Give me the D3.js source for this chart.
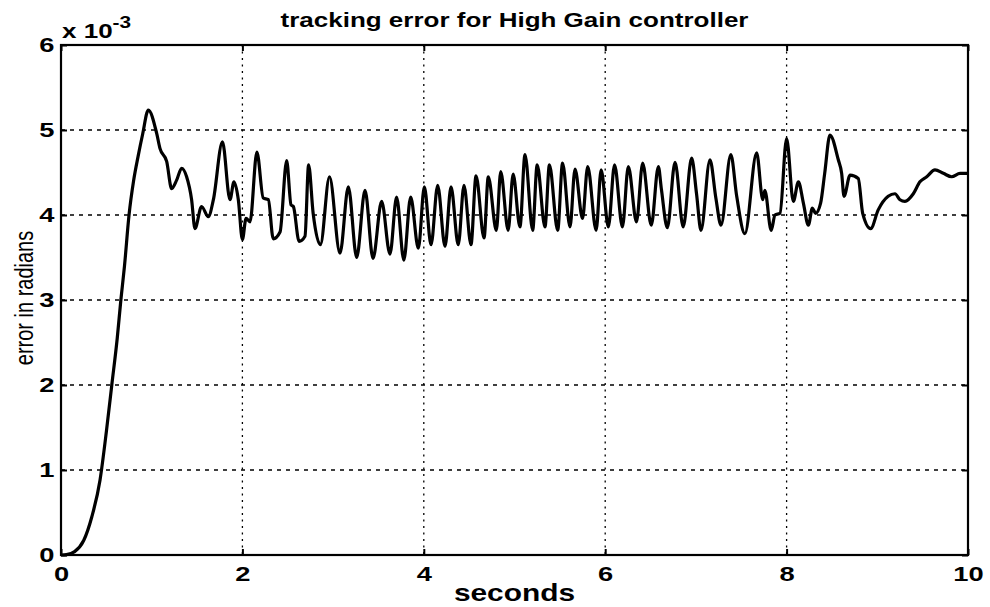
<!DOCTYPE html>
<html>
<head>
<meta charset="utf-8">
<script src="https://cdn.jsdelivr.net/npm/d3@7"></script>
<style>
  html, body { margin: 0; padding: 0; background: #fff; }
  svg { display: block; }
  text { font-family: 'Liberation Sans', Arial, Helvetica, sans-serif; fill: #000; }
</style>
</head>
<body>
<div id="chart"></div>
<script>
// time in seconds, error in units of 1e-3 radians
const timeS = [
  0, 0.06, 0.15, 0.25, 0.34, 0.43, 0.5, 0.56, 0.62, 0.66, 0.7, 0.75, 0.8, 0.85, 0.9, 0.963,
  1.055, 1.092, 1.165, 1.22, 1.275, 1.33, 1.385, 1.44, 1.477, 1.55, 1.624, 1.68, 1.78, 1.863, 1.907, 1.955,
  2.0, 2.04, 2.084, 2.16, 2.23, 2.286, 2.34, 2.415, 2.488, 2.536, 2.562, 2.625, 2.69, 2.73, 2.78, 2.86, 2.96,
  3.076, 3.168, 3.26, 3.352, 3.44, 3.535, 3.627, 3.70, 3.78, 3.855, 3.94,
  4.006, 4.08, 4.153, 4.234, 4.30, 4.38, 4.443, 4.52, 4.576, 4.664, 4.711, 4.80, 4.848, 4.93, 4.985,
  5.06, 5.116, 5.20, 5.25, 5.336, 5.385, 5.476, 5.53, 5.612, 5.667, 5.75, 5.807, 5.90, 5.955,
  6.035, 6.103, 6.19, 6.255, 6.345, 6.413, 6.508, 6.586, 6.62, 6.685, 6.77, 6.86, 6.953,
  7.007, 7.056, 7.155, 7.22, 7.277, 7.385, 7.45, 7.54, 7.67, 7.737, 7.76, 7.83, 7.872, 7.927,
  8.0, 8.074, 8.13, 8.185, 8.24, 8.284, 8.32, 8.375, 8.42, 8.478, 8.57, 8.607, 8.633, 8.70, 8.79, 8.839, 8.927,
  9.01, 9.12, 9.195, 9.25, 9.305, 9.397, 9.47, 9.545, 9.636, 9.728, 9.82, 9.912, 10.0
];
const errorE3 = [
  0, 0.005, 0.04, 0.17, 0.45, 0.88, 1.45, 2.0, 2.55, 3.0, 3.4, 4.0, 4.4, 4.69, 4.95, 5.235,
  4.96, 4.78, 4.63, 4.31, 4.41, 4.55, 4.45, 4.18, 3.84, 4.10, 3.98, 4.18, 4.86, 4.18, 4.39, 4.18,
  3.71, 3.96, 3.92, 4.74, 4.20, 4.18, 3.72, 3.80, 4.64, 4.12, 4.10, 3.69, 3.75, 4.59, 4.02, 3.65, 4.45,
  3.55, 4.33, 3.50, 4.29, 3.49, 4.16, 3.54, 4.21, 3.47, 4.21, 3.61,
  4.33, 3.65, 4.35, 3.63, 4.33, 3.65, 4.35, 3.65, 4.46, 3.73, 4.45, 3.82, 4.51, 3.82, 4.48,
  3.86, 4.71, 3.82, 4.59, 3.86, 4.59, 3.82, 4.61, 3.86, 4.54, 3.96, 4.57, 3.82, 4.53,
  3.86, 4.59, 3.86, 4.57, 3.92, 4.61, 3.88, 4.57, 4.30, 3.85, 4.62, 3.86, 4.67,
  4.25, 3.82, 4.65, 4.20, 3.88, 4.71, 4.22, 3.78, 4.73, 4.18, 4.29, 3.82, 4.00, 4.02,
  4.90, 4.16, 4.39, 4.14, 3.88, 4.08, 4.02, 4.14, 4.49, 4.94, 4.65, 4.49, 4.22, 4.47, 4.43, 4.02, 3.84,
  4.06, 4.22, 4.25, 4.18, 4.16, 4.25, 4.39, 4.45, 4.53, 4.49, 4.45, 4.49, 4.49
];
const xTicks = [0, 2, 4, 6, 8, 10];
const yTicks = [0, 1, 2, 3, 4, 5, 6];

const titleText = 'tracking error for High Gain controller';
const xLabel = 'seconds';
const yLabel = 'error in radians';

const width = 990, height = 607;
const margin = { top: 45, right: 22, bottom: 52, left: 61 };
const plotW = width - margin.left - margin.right;
const plotH = height - margin.top - margin.bottom;
// the printed lettering is wide: stretch text horizontally
const stretch = 1.3;

const svg = d3.select('#chart').append('svg')
  .attr('width', width)
  .attr('height', height);

svg.append('rect').attr('width', width).attr('height', height).attr('fill', '#fff');

const g = svg.append('g').attr('transform', `translate(${margin.left},${margin.top})`);

const x = d3.scaleLinear().domain([0, 10]).range([0, plotW]);
const y = d3.scaleLinear().domain([0, 6]).range([plotH, 0]);

// dotted grid
g.append('g').selectAll('line')
  .data(xTicks.slice(1, -1))
  .join('line')
  .attr('x1', d => x(d)).attr('x2', d => x(d))
  .attr('y1', 0).attr('y2', plotH)
  .attr('stroke', '#000').attr('stroke-width', 1.3)
  .attr('stroke-dasharray', '2,4.5');

g.append('g').selectAll('line')
  .data(yTicks.slice(1, -1))
  .join('line')
  .attr('x1', 0).attr('x2', plotW)
  .attr('y1', d => y(d)).attr('y2', d => y(d))
  .attr('stroke', '#000').attr('stroke-width', 1.3)
  .attr('stroke-dasharray', '4,5');

// axes: labels bottom/left, inward ticks on all four sides
const tickLen = 6;
const axisStyle = sel => {
  sel.select('.domain').remove();
  sel.selectAll('.tick line').attr('stroke', '#000').attr('stroke-width', 2);
  sel.selectAll('.tick text')
    .style('font-size', '21px').style('font-weight', 'bold').attr('fill', '#000');
};

const xAxisG = g.append('g').attr('transform', `translate(0,${plotH})`)
  .call(d3.axisBottom(x).tickValues(xTicks).tickSize(-tickLen).tickPadding(11).tickFormat(d3.format('d')))
  .call(axisStyle);
xAxisG.selectAll('.tick text').attr('transform', `scale(${stretch},1)`);

g.append('g')
  .call(d3.axisTop(x).tickValues(xTicks).tickSize(-tickLen).tickFormat(''))
  .call(axisStyle);

const yAxisG = g.append('g')
  .call(d3.axisLeft(y).tickValues(yTicks).tickSize(-tickLen).tickPadding(0).tickFormat(d3.format('d')))
  .call(axisStyle);
yAxisG.selectAll('.tick text').attr('x', -5).attr('transform', `scale(${stretch},1)`);

g.append('g').attr('transform', `translate(${plotW},0)`)
  .call(d3.axisRight(y).tickValues(yTicks).tickSize(-tickLen).tickFormat(''))
  .call(axisStyle);

// frame
g.append('rect')
  .attr('width', plotW).attr('height', plotH)
  .attr('fill', 'none').attr('stroke', '#000').attr('stroke-width', 2.2);

// the error curve
const pts = timeS.map((t, i) => [t, errorE3[i]]);
const line = d3.line()
  .x(d => x(d[0]))
  .y(d => y(d[1]))
  .curve(d3.curveMonotoneX);

g.append('path')
  .datum(pts)
  .attr('d', line)
  .attr('fill', 'none')
  .attr('stroke', '#000')
  .attr('stroke-width', 3.2)
  .attr('stroke-linejoin', 'round');

// exponent label
const expo = svg.append('text')
  .attr('transform', `translate(${margin.left + 1},38) scale(${stretch},1)`)
  .style('font-size', '20px').style('font-weight', 'bold');
expo.append('tspan').text('x 10');
expo.append('tspan').attr('dy', -10).style('font-size', '16px').text('-3');

// title and axis labels
svg.append('text')
  .attr('transform', `translate(${margin.left + plotW / 2},27) scale(${stretch},1)`)
  .attr('text-anchor', 'middle')
  .style('font-size', '20px').style('font-weight', 'bold')
  .text(titleText);

svg.append('text')
  .attr('transform', `translate(${margin.left + plotW / 2},601) scale(${stretch},1)`)
  .attr('text-anchor', 'middle')
  .style('font-size', '23px').style('font-weight', 'bold')
  .text(xLabel);

svg.append('text')
  .attr('transform', `translate(33,298) rotate(-90) scale(1,${stretch})`)
  .attr('text-anchor', 'middle')
  .style('font-size', '20px')
  .text(yLabel);
</script>
</body>
</html>
